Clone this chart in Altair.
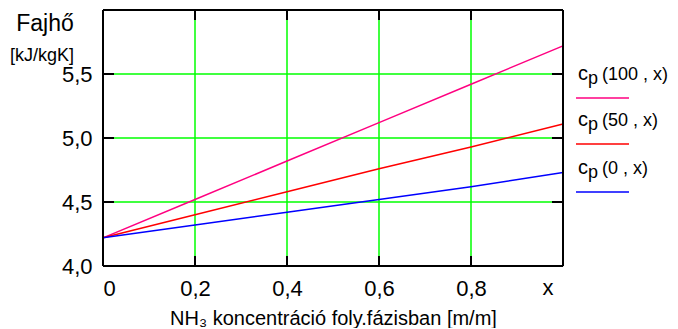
import altair as alt
import pandas as pd

# ---- data ----
x_vals = [0.0, 0.2, 0.4, 0.6, 0.8, 1.0]
cp_100 = [4.22, 4.52, 4.82, 5.12, 5.42, 5.72]
cp_50 = [4.22, 4.40, 4.58, 4.76, 4.93, 5.11]
cp_0 = [4.22, 4.32, 4.42, 4.52, 4.62, 4.73]
series_names = ["cp(100,x)", "cp(50,x)", "cp(0,x)"]
legend_args = ["(100 , x)", "(50 , x)", "(0 , x)"]
series_colors = ["#ff0080", "#ff0000", "#0000ff"]
x_ticks = [0.0, 0.2, 0.4, 0.6, 0.8]
y_ticks = [4.0, 4.5, 5.0, 5.5]
x_grid = [0.2, 0.4, 0.6, 0.8]
y_grid = [4.5, 5.0, 5.5]
x_title = "NH\u2083 koncentráció foly.fázisban [m/m]"
y_title_1 = "Fajhő"
y_title_2 = "[kJ/kgK]"
x_end_label = "x"

W, H = 460, 256
FONT = "Liberation Sans"
GREEN = "#00ff00"
LABEL_SIZE = 22

rows = []
for name, vals in zip(series_names, [cp_100, cp_50, cp_0]):
    for xv, yv in zip(x_vals, vals):
        rows.append({"x": xv, "cp": yv, "series": name})
df = pd.DataFrame(rows)

xscale = alt.Scale(domain=[0, 1], nice=False, zero=False)
yscale = alt.Scale(domain=[4, 6], nice=False, zero=False)

x_axis = alt.Axis(
    values=x_ticks,
    labelExpr="datum.value == 0 ? '0' : replace(format(datum.value, '.1f'), '.', ',')",
    title=x_title, titleFont=FONT, titleFontSize=20, titleFontWeight="normal",
    titleColor="black", titlePadding=9,
    labelFont=FONT, labelFontSize=LABEL_SIZE, labelColor="black", labelPadding=12,
    ticks=False, tickSize=0, domain=False, grid=False,
)
y_axis = alt.Axis(
    values=y_ticks,
    labelExpr="replace(format(datum.value, '.1f'), '.', ',')",
    title=None,
    labelFont=FONT, labelFontSize=LABEL_SIZE, labelColor="black", labelPadding=11,
    ticks=False, tickSize=0, domain=False, grid=False,
)

grid_x = alt.Chart(pd.DataFrame({"g": x_grid})).mark_rule(
    color=GREEN, strokeWidth=1.5
).encode(x=alt.X("g:Q", scale=xscale, axis=x_axis))

grid_y = alt.Chart(pd.DataFrame({"g": y_grid})).mark_rule(
    color=GREEN, strokeWidth=1.5
).encode(y=alt.Y("g:Q", scale=yscale, axis=y_axis))

tick_len = 10
ticks = []
tx = pd.DataFrame({"g": x_grid})
ty = pd.DataFrame({"g": y_grid})
for y0, y1 in [(H, H - tick_len), (0, tick_len)]:
    ticks.append(
        alt.Chart(tx).mark_rule(color="black", strokeWidth=2).encode(
            x=alt.X("g:Q", scale=xscale, axis=x_axis),
            y=alt.value(y0), y2=alt.value(y1),
        )
    )
for x0, x1 in [(0, tick_len + 1), (W, W - tick_len - 1)]:
    ticks.append(
        alt.Chart(ty).mark_rule(color="black", strokeWidth=2).encode(
            y=alt.Y("g:Q", scale=yscale, axis=y_axis),
            x=alt.value(x0), x2=alt.value(x1),
        )
    )

lines = alt.Chart(df).mark_line(strokeWidth=1.5).encode(
    x=alt.X("x:Q", scale=xscale, axis=x_axis),
    y=alt.Y("cp:Q", scale=yscale, axis=y_axis),
    color=alt.Color("series:N", scale=alt.Scale(domain=series_names, range=series_colors), legend=None),
    detail="series:N",
)

frame = [
    alt.Chart().mark_rule(color="black", strokeWidth=2).encode(x=alt.value(0), x2=alt.value(W), y=alt.value(0)),
    alt.Chart().mark_rule(color="black", strokeWidth=2).encode(x=alt.value(0), x2=alt.value(W), y=alt.value(H)),
    alt.Chart().mark_rule(color="black", strokeWidth=2).encode(y=alt.value(0), y2=alt.value(H), x=alt.value(0)),
    alt.Chart().mark_rule(color="black", strokeWidth=2).encode(y=alt.value(0), y2=alt.value(H), x=alt.value(W)),
]

texts = [
    alt.Chart().mark_text(text=y_title_1, font=FONT, fontSize=23, align="center", baseline="alphabetic", color="black")
    .encode(x=alt.value(-58), y=alt.value(21)),
    alt.Chart().mark_text(text=y_title_2, font=FONT, fontSize=18, align="center", baseline="alphabetic", color="black")
    .encode(x=alt.value(-61), y=alt.value(51)),
    alt.Chart().mark_text(text=x_end_label, font=FONT, fontSize=LABEL_SIZE, align="center", baseline="top", color="black")
    .encode(x=alt.value(445), y=alt.value(H + 12)),
]

legend_layers = []
leg_base = [70, 116, 164]
for i, (arg, col) in enumerate(zip(legend_args, series_colors)):
    b = leg_base[i]
    legend_layers += [
        alt.Chart().mark_text(text="c", font=FONT, fontSize=20, align="left", baseline="alphabetic", color="black")
        .encode(x=alt.value(475), y=alt.value(b)),
        alt.Chart().mark_text(text="p", font=FONT, fontSize=18, align="left", baseline="alphabetic", color="black")
        .encode(x=alt.value(485), y=alt.value(b + 4)),
        alt.Chart().mark_text(text=arg, font=FONT, fontSize=18, align="left", baseline="alphabetic", color="black")
        .encode(x=alt.value(499), y=alt.value(b)),
        alt.Chart().mark_rule(color=col, strokeWidth=1.5)
        .encode(x=alt.value(473), x2=alt.value(526), y=alt.value(b + 18)),
    ]

chart = alt.layer(
    grid_x, grid_y, *ticks, lines, *frame, *texts, *legend_layers
).properties(
    width=W, height=H,
    autosize=alt.AutoSizeParams(type="none"),
    padding={"left": 95, "top": 2, "right": 107, "bottom": 62},
).configure_view(stroke=None).configure(background="white")

chart.save("out.html", embed_options={"renderer": "svg", "actions": False})
